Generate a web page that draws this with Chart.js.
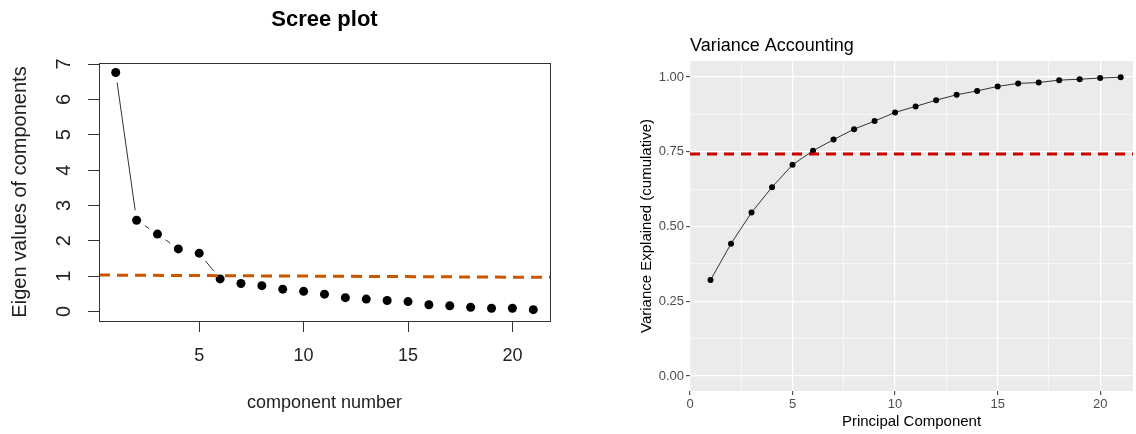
<!DOCTYPE html>
<html><head><meta charset="utf-8">
<script src="https://cdn.jsdelivr.net/npm/chart.js@4.4.1/dist/chart.umd.min.js"></script>
<style>
html,body{margin:0;padding:0;background:#fff;}
#wrap{position:relative;width:1136px;height:434px;overflow:hidden;background:#fff;}
#c1{position:absolute;left:0;top:0;}
#c2{position:absolute;left:570px;top:0;}
</style></head><body>
<div id="wrap"><canvas id="c1" width="570" height="434"></canvas><canvas id="c2" width="566" height="434"></canvas></div>
<script>
// ---- data ----
const components = [1,2,3,4,5,6,7,8,9,10,11,12,13,14,15,16,17,18,19,20,21];
const eigenValues = [6.76,2.58,2.19,1.77,1.65,0.92,0.79,0.73,0.63,0.57,0.49,0.39,0.35,0.31,0.28,0.19,0.16,0.12,0.09,0.09,0.05];
const kaiserLineX = [0.2, 21.8];
const kaiserLineY = [1.03, 0.965];
const screeXTicks = [5,10,15,20];
const screeYTicks = [0,1,2,3,4,5,6,7];

const cumulativeVariance = [0.321,0.443,0.547,0.632,0.707,0.754,0.791,0.826,0.853,0.882,0.902,0.923,0.941,0.954,0.969,0.979,0.982,0.990,0.993,0.997,1.000];
const thresholdX = [0, 21.6];
const thresholdY = [0.743, 0.743];
const varXTicks = [0,5,10,15,20];
const varXMinor = [2.5,7.5,12.5,17.5];
const varYTicks = [0,0.25,0.5,0.75,1];
const varYMinor = [0.125,0.375,0.625,0.875];
const varYLabels = ['0.00','0.25','0.50','0.75','1.00'];

const FONT = "'Liberation Sans', Arial, sans-serif";

// ---- left: scree plot ----
const screePlugin = {
  id: 'scree',
  beforeDatasetsDraw(chart) {
    const ctx = chart.ctx;
    const pts = chart.getDatasetMeta(1).data;
    const gap = 10;
    ctx.save();
    ctx.strokeStyle = '#333';
    ctx.lineWidth = 1;
    for (let i = 0; i < pts.length - 1; i++) {
      const a = pts[i], b = pts[i + 1];
      const dx = b.x - a.x, dy = b.y - a.y;
      const d = Math.hypot(dx, dy);
      if (d - 2 * gap < 2) continue;
      const ux = dx / d, uy = dy / d;
      ctx.beginPath();
      ctx.moveTo(a.x + ux * gap, a.y + uy * gap);
      ctx.lineTo(b.x - ux * gap, b.y - uy * gap);
      ctx.stroke();
    }
    ctx.restore();
  },
  afterDraw(chart) {
    const ctx = chart.ctx;
    const {left, top, right, bottom} = chart.chartArea;
    ctx.save();
    ctx.strokeStyle = '#333';
    ctx.lineWidth = 1;
    ctx.strokeRect(Math.round(left) + 0.5, Math.round(top) + 0.5, Math.round(right - left), Math.round(bottom - top));
    const ys = chart.scales.y;
    ctx.fillStyle = '#222';
    ctx.font = '20px ' + FONT;
    ctx.textAlign = 'center';
    ctx.textBaseline = 'middle';
    screeYTicks.forEach(v => {
      const y = ys.getPixelForValue(v);
      ctx.save();
      ctx.translate(64, y);
      ctx.rotate(-Math.PI / 2);
      ctx.fillText(String(v), 0, 0);
      ctx.restore();
    });
    ctx.font = 'bold 22px ' + FONT;
    ctx.fillStyle = '#000';
    ctx.textBaseline = 'alphabetic';
    ctx.fillText('Scree plot', (left + right) / 2, 26);
    ctx.restore();
  }
};

new Chart(document.getElementById('c1'), {
  type: 'scatter',
  data: { datasets: [
    { data: kaiserLineX.map((x, i) => ({x, y: kaiserLineY[i]})), showLine: true,
      borderColor: '#CC5500', borderWidth: 3, borderDash: [11, 7], pointRadius: 0, fill: false },
    { data: components.map((x, i) => ({x, y: eigenValues[i]})), showLine: false,
      pointRadius: 4.5, pointBackgroundColor: '#000', pointBorderWidth: 0, pointHoverRadius: 4.5 }
  ]},
  options: {
    responsive: false, animation: false, events: [],
    layout: { padding: { left: 0, right: 20, top: 63, bottom: 0 } },
    plugins: { legend: { display: false }, tooltip: { enabled: false }, title: { display: false } },
    scales: {
      x: { type: 'linear', min: 0.2, max: 21.8,
        afterBuildTicks: s => { s.ticks = screeXTicks.map(v => ({value: v})); },
        afterFit: s => { s.height = 113; },
        grid: { drawOnChartArea: false, drawTicks: true, tickLength: 11, color: '#333', lineWidth: 1 },
        border: { display: false },
        ticks: { font: { family: FONT, size: 18 }, color: '#222', padding: 13, maxRotation: 0, autoSkip: false },
        title: { display: true, text: 'component number', font: { family: FONT, size: 18 }, color: '#222', padding: { top: 0, bottom: 20 } }
      },
      y: { type: 'linear', min: -0.27, max: 7.03,
        afterBuildTicks: s => { s.ticks = screeYTicks.map(v => ({value: v})); },
        afterFit: s => { s.width = 99; },
        grid: { drawOnChartArea: false, drawTicks: true, tickLength: 11, color: '#333', lineWidth: 1 },
        border: { display: false },
        ticks: { display: false },
        title: { display: true, text: 'Eigen values of components', font: { family: FONT, size: 20 }, color: '#222', padding: { top: 8, bottom: 0 } }
      }
    }
  },
  plugins: [screePlugin]
});

// ---- right: variance accounting ----
const isMajorX = v => varXTicks.includes(v);
const isMajorY = v => varYTicks.includes(v);
const varPlugin = {
  id: 'varbg',
  beforeDraw(chart) {
    const ctx = chart.ctx;
    const {left, top, right, bottom} = chart.chartArea;
    ctx.save();
    ctx.fillStyle = '#EBEBEB';
    ctx.fillRect(left, top, right - left, bottom - top);
    ctx.restore();
  },
  afterDraw(chart) {
    const ctx = chart.ctx;
    const {left} = chart.chartArea;
    ctx.save();
    ctx.font = '18px ' + FONT;
    ctx.fillStyle = '#000';
    ctx.textAlign = 'left';
    ctx.textBaseline = 'alphabetic';
    ctx.fillText('Variance Accounting', left, 51);
    ctx.restore();
  }
};

new Chart(document.getElementById('c2'), {
  type: 'scatter',
  data: { datasets: [
    { data: thresholdX.map((x, i) => ({x, y: thresholdY[i]})), showLine: true,
      borderColor: '#CC0000', borderWidth: 3, borderDash: [10, 7], pointRadius: 0, fill: false },
    { data: components.map((x, i) => ({x, y: cumulativeVariance[i]})), showLine: true,
      borderColor: '#333', borderWidth: 1, pointRadius: 3, pointBackgroundColor: '#000',
      pointBorderWidth: 0, pointHoverRadius: 3, tension: 0 }
  ]},
  options: {
    responsive: false, animation: false, events: [],
    layout: { padding: { left: 0, right: 0, top: 61, bottom: 0 } },
    plugins: { legend: { display: false }, tooltip: { enabled: false }, title: { display: false } },
    scales: {
      x: { type: 'linear', min: 0, max: 21.6,
        afterBuildTicks: s => { s.ticks = [...varXTicks, ...varXMinor].sort((a, b) => a - b).map(v => ({value: v})); },
        afterFit: s => { s.height = 43; },
        grid: { drawOnChartArea: true, drawTicks: true, tickLength: 4, color: '#FFFFFF',
          lineWidth: c => (c.tick && isMajorX(c.tick.value)) ? 1.3 : 0.6,
          tickColor: c => (c.tick && isMajorX(c.tick.value)) ? '#333' : 'rgba(0,0,0,0)', tickWidth: 1 },
        border: { display: false },
        ticks: { font: { family: FONT, size: 13 }, color: '#4D4D4D', padding: 2, maxRotation: 0, autoSkip: false,
          callback: v => isMajorX(v) ? String(v) : '' },
        title: { display: true, text: 'Principal Component', font: { family: FONT, size: 15 }, color: '#000', padding: { top: 0, bottom: 3 } }
      },
      y: { type: 'linear', min: -0.05, max: 1.054,
        afterBuildTicks: s => { s.ticks = [...varYTicks, ...varYMinor].sort((a, b) => a - b).map(v => ({value: v})); },
        afterFit: s => { s.width = 120; },
        grid: { drawOnChartArea: true, drawTicks: true, tickLength: 4, color: '#FFFFFF',
          lineWidth: c => (c.tick && isMajorY(c.tick.value)) ? 1.3 : 0.6,
          tickColor: c => (c.tick && isMajorY(c.tick.value)) ? '#333' : 'rgba(0,0,0,0)', tickWidth: 1 },
        border: { display: false },
        ticks: { font: { family: FONT, size: 13 }, color: '#4D4D4D', padding: 2, autoSkip: false,
          callback: v => { const i = varYTicks.indexOf(v); return i >= 0 ? varYLabels[i] : ''; } },
        title: { display: true, text: 'Variance Explained (cumulative)', font: { family: FONT, size: 15 }, color: '#000', padding: { top: 68, bottom: 0 } }
      }
    }
  },
  plugins: [varPlugin]
});
</script>
</body></html>
